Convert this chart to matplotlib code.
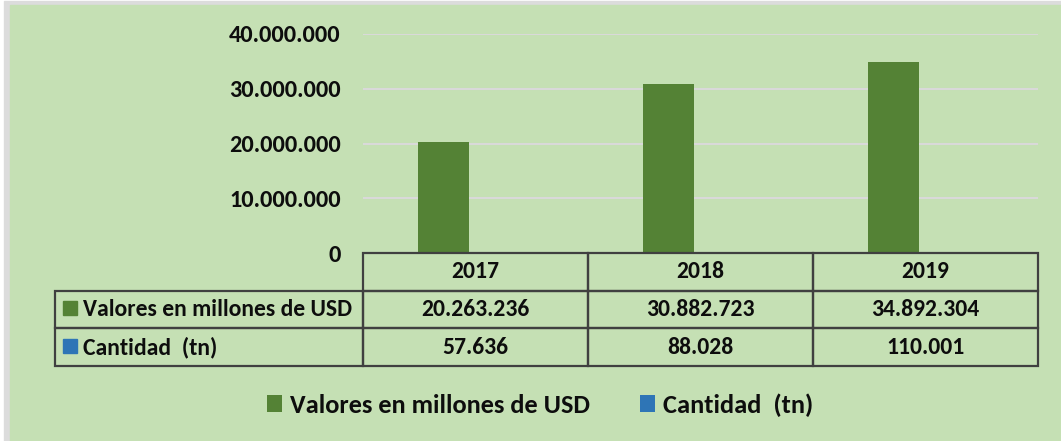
import matplotlib.pyplot as plt
from matplotlib.patches import Rectangle

# data
years = ['2017', '2018', '2019']
valores = [20263236, 30882723, 34892304]
cantidad = [57636, 88028, 110001]
series_names = ['Valores en millones de USD', 'Cantidad  (tn)']
valores_txt = ['20.263.236', '30.882.723', '34.892.304']
cantidad_txt = ['57.636', '88.028', '110.001']
yticks = [0, 10000000, 20000000, 30000000, 40000000]
ytick_txt = ['0', '10.000.000', '20.000.000', '30.000.000', '40.000.000']

GREEN = '#548235'
BLUE = '#2E75B6'
BG = '#C5E0B4'
W, H = 1061, 441

plt.rcParams['font.family'] = ['Carlito', 'Lato', 'DejaVu Sans']
plt.rcParams['font.weight'] = 'bold'

fig = plt.figure(figsize=(W / 100, H / 100), dpi=100, facecolor='white')
# shadow + chart area background
fig.patches.append(Rectangle((4 / W, 0), 1, 1 - 1 / H, transform=fig.transFigure,
                             color='#DCDCDC', zorder=-10))
fig.patches.append(Rectangle((10 / W, 0), 1, 1 - 5 / H, transform=fig.transFigure,
                             color=BG, zorder=-9))

ax = fig.add_axes([363 / W, 1 - 253 / H, 675 / W, 219 / H])
ax.set_facecolor('none')
x = range(len(years))
bw = 0.227
ax.bar([i - 0.142 for i in x], valores, width=bw, color=GREEN, lw=0, zorder=2, label=series_names[0])
ax.bar([i + 0.142 for i in x], cantidad, width=bw, color=BLUE, lw=0, zorder=2, label=series_names[1])
ax.set_xlim(-0.5, 2.5)
ax.set_ylim(0, 40000000)
ax.set_yticks(yticks)
ax.set_yticklabels(ytick_txt, fontsize=17.5, fontweight='bold', color='#0D0D0D')
ax.tick_params(axis='y', length=0, pad=16)
ax.set_xticks([])
for s in ax.spines.values():
    s.set_visible(False)
ax.yaxis.grid(True, color='#D9D9D9', lw=1.5, zorder=0)

# data table under the axis
cells = [[''] + years,
         [series_names[0]] + valores_txt,
         [series_names[1]] + cantidad_txt]
left = (55 - 363) / 675
tab = ax.table(cellText=cells, colWidths=[308, 225, 225, 225],
               bbox=[left, -113 / 219, 1 - left, 113 / 219])
tab.set_zorder(5)
tab.auto_set_font_size(False)
for (r, c), cell in tab.get_celld().items():
    cell.set_facecolor('none')
    cell.set_edgecolor('#404040')
    cell.set_linewidth(1.6)
    cell.get_text().set_fontsize(17)
    cell.get_text().set_fontweight('bold')
    cell.get_text().set_color('#0D0D0D')
    if c == 0:
        cell.get_text().set_ha('left')
        cell.PAD = 0.09
    else:
        cell.get_text().set_ha('center')
    if r == 0 and c == 0:
        cell.visible_edges = ''

# colour keys inside the table
fig.patches.append(Rectangle((63 / W, 1 - 315 / H), 14 / W, 14 / H,
                             transform=fig.transFigure, color=GREEN, zorder=5))
fig.patches.append(Rectangle((63 / W, 1 - 353 / H), 14 / W, 14 / H,
                             transform=fig.transFigure, color=BLUE, zorder=5))

leg = fig.legend(loc='center', bbox_to_anchor=(540 / W, 1 - 405 / H), ncol=2, frameon=False,
                 prop={'size': 19, 'weight': 'bold'}, handlelength=0.58, handleheight=0.58,
                 handletextpad=0.3, columnspacing=1.9)
for t in leg.get_texts():
    t.set_color('#0D0D0D')
    t.set_fontweight('bold')

fig.savefig('out.png', dpi=100)
